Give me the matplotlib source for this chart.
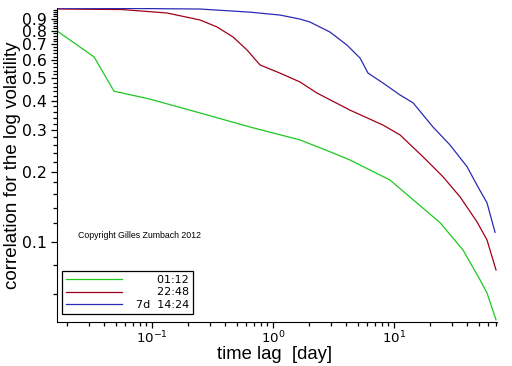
import numpy as np
import matplotlib
matplotlib.use('Agg')
import matplotlib.pyplot as plt
from matplotlib.ticker import FixedLocator, NullFormatter, FuncFormatter

# correlation of the log volatility vs time lag, three series
green_x = [0.0164, 0.0332, 0.0485, 0.0962, 0.249, 0.646, 1.67, 2.96, 4.33, 9.26, 24.0, 37.2, 51.4, 58.7, 69.7]
green_y = [0.798, 0.618, 0.441, 0.408, 0.356, 0.310, 0.273, 0.243, 0.224, 0.184, 0.121, 0.0924, 0.0689, 0.0605, 0.0465]

red_x = [0.0164, 0.0565, 0.133, 0.249, 0.344, 0.467, 0.609, 0.781, 1.14, 1.67, 2.31, 4.33, 8.11, 11.2,
         17.4, 25.4, 35.1, 48.5, 58.7, 69.7]
red_y = [0.99, 0.985, 0.952, 0.889, 0.830, 0.752, 0.662, 0.571, 0.527, 0.483, 0.433, 0.366, 0.316, 0.287,
         0.231, 0.190, 0.156, 0.122, 0.102, 0.0759]

blue_x = [0.0164, 0.0565, 0.249, 0.646, 1.14, 1.67, 2.02, 2.96, 4.09, 5.24, 6.10, 8.11, 11.2, 14.4,
          21.0, 29.0, 40.1, 49.4, 58.7, 68.4]
blue_y = [0.998, 0.996, 0.99, 0.96, 0.933, 0.897, 0.871, 0.789, 0.694, 0.611, 0.527, 0.478, 0.425, 0.393,
          0.310, 0.260, 0.210, 0.172, 0.147, 0.110]

labels = ['      01:12', '      22:48', '7d  14:24']
colors = ['#1ec81e', '#a00018', '#2a2ab4']

ytick_major = [0.1, 0.2, 0.3, 0.4, 0.5, 0.6, 0.7, 0.8, 0.9]

fig = plt.figure(figsize=(5.12, 3.66), dpi=100)
ax = fig.add_axes([57/512, 1 - 322/366, 440/512, 314/366])

ax.plot(green_x, green_y, color=colors[0], lw=0.9, label=labels[0])
ax.plot(red_x, red_y, color=colors[1], lw=0.9, label=labels[1])
ax.plot(blue_x, blue_y, color=colors[2], lw=0.9, label=labels[2])

ax.set_xscale('log')
ax.set_yscale('log')
ax.set_xlim(0.0164, 71)
ax.set_ylim(0.0455, 1.0)

ax.spines['top'].set_visible(False)
ax.spines['right'].set_visible(False)

# y ticks: labelled at 0.1 .. 0.9, small ones every 0.02
ax.yaxis.set_major_locator(FixedLocator(ytick_major))
ax.yaxis.set_major_formatter(FuncFormatter(lambda v, p: '%.1f' % v))
yminor = [round(v, 2) for v in np.arange(0.06, 0.99, 0.02) if round(v, 2) not in ytick_major]
ax.yaxis.set_minor_locator(FixedLocator(yminor))
ax.yaxis.set_minor_formatter(NullFormatter())

ax.tick_params(which='major', length=4.5, width=0.9, color='black', direction='out')
ax.tick_params(which='minor', length=3, width=0.9, color='black', direction='out')
ax.tick_params(axis='y', which='major', labelsize=11.3, pad=3)
ax.tick_params(axis='x', which='major', labelsize=9.6, pad=1.2)

leg = ax.legend(loc='lower left', bbox_to_anchor=(0.011, 0.025), borderaxespad=0,
                fancybox=False, framealpha=1, edgecolor='black', fontsize=8,
                handlelength=5.1, handletextpad=1.2, borderpad=0.35, labelspacing=0.25)
leg.get_frame().set_linewidth(0.9)

ax.text((78 - 57)/440, (322 - 235)/314, 'Copyright Gilles Zumbach 2012', transform=ax.transAxes,
        fontsize=6.3, family='Liberation Sans', va='center', ha='left')

fig.text(13/512, 1 - 165/366, 'correlation for the log volatility', rotation=90,
         ha='center', va='center', fontsize=13.5, family='Liberation Sans')
fig.text(275/512, 1 - 359/366, 'time lag  [day]', ha='center', va='baseline',
         fontsize=13.3, family='Liberation Sans')

fig.savefig('out.png', dpi=100)
